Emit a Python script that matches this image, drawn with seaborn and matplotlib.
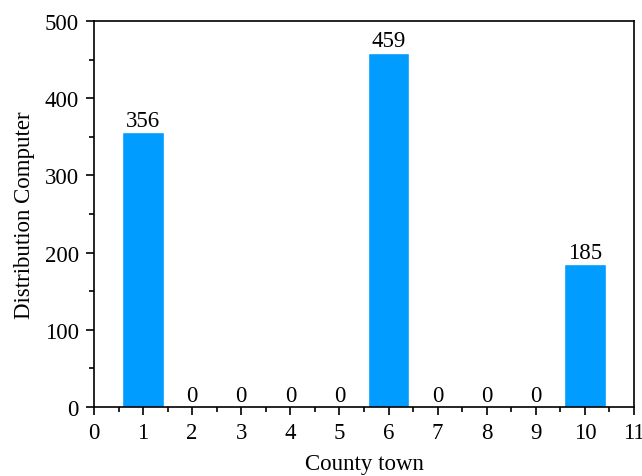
import matplotlib
matplotlib.use("Agg")
import matplotlib.pyplot as plt
from matplotlib.ticker import MultipleLocator
import seaborn as sns
import pandas as pd

towns = [1, 2, 3, 4, 5, 6, 7, 8, 9, 10]
computers = [356, 0, 0, 0, 0, 459, 0, 0, 0, 185]

sns.set_style("ticks")
plt.rcParams["font.family"] = ["Liberation Serif", "DejaVu Serif"]
plt.rcParams.update({
    "font.size": 16.5,
    "text.color": "black",
    "axes.labelcolor": "black",
    "xtick.color": "black",
    "ytick.color": "black",
    "axes.edgecolor": "black",
})

df = pd.DataFrame({"town": towns, "count": computers})

fig = plt.figure(figsize=(6.42, 4.77), dpi=100)
ax = fig.add_axes([0.1464, 0.1447, 0.8411, 0.8092])

sns.barplot(data=df, x="town", y="count", native_scale=True, width=0.84,
            color="#009cff", saturation=1, ax=ax, errorbar=None)

ax.bar_label(ax.containers[0], fmt="%d", padding=1, fontsize=16.5, color="black")

ax.set_xlim(0, 11)
ax.set_ylim(0, 500)
ax.xaxis.set_major_locator(MultipleLocator(1))
ax.xaxis.set_minor_locator(MultipleLocator(0.5))
ax.yaxis.set_major_locator(MultipleLocator(100))
ax.yaxis.set_minor_locator(MultipleLocator(50))
ax.tick_params(which="major", direction="out", length=6, width=1.2,
               labelsize=16.5, pad=5)
ax.tick_params(which="minor", direction="out", length=3.5, width=1.2)
for s in ax.spines.values():
    s.set_linewidth(1.2)
    s.set_color("black")

ax.set_xlabel("County town", fontsize=16.5, labelpad=7)
ax.set_ylabel("Distribution Computer", fontsize=16.5, labelpad=7)

fig.savefig("out.png", dpi=100)
